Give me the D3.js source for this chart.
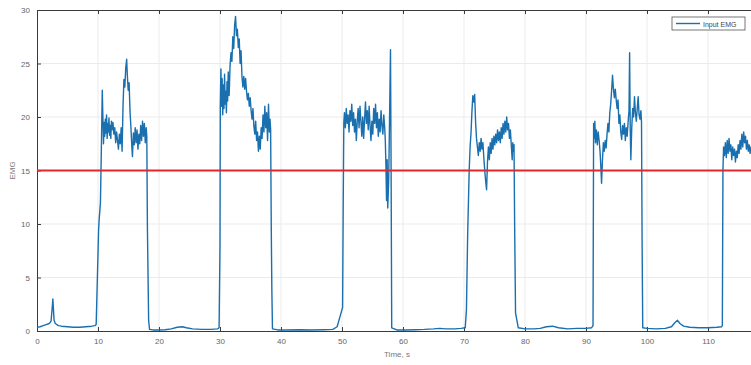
<!DOCTYPE html>
<html>
<head>
<meta charset="utf-8">
<script src="https://cdn.jsdelivr.net/npm/d3@7"></script>
<style>
  body { margin: 0; background: #fff; }
  svg { display: block; font-family: "Liberation Sans", Arial, sans-serif; }
</style>
</head>
<body>
<svg id="chart" width="751" height="365"></svg>
<script>
// EMG trace as [time s, value]
const rest0 = [[0,0.35],[0.5,0.4],[1,0.5],[1.5,0.6],[2,0.7],[2.3,0.9],[2.5,2.2],[2.6,3.0],[2.7,2.0],[2.8,1.0],[3.0,0.7],[3.5,0.5],[4,0.45],[5,0.4],[6,0.35],[7,0.35],[8,0.4],[9,0.45],[9.5,0.5]];
const burst1 = [[9.7,0.6],[9.9,5.0],[10.1,9.5],[10.2,10.5],[10.4,12],[10.55,17],[10.7,22.5],[10.8,20],[10.9,17.5],[11.0,19.5],[11.1,18.2],[11.2,19.8],[11.3,18.5],[11.4,20.2],[11.5,18.0],[11.6,19.4],[11.7,18.6],[11.8,19.9],[11.9,18.3],[12.0,19.2],[12.1,18.0],[12.2,19.6],[12.3,18.8],[12.45,19.5],[12.6,18.4],[12.75,19.0],[12.9,17.6],[13.05,18.6],[13.2,17.8],[13.35,17.0],[13.5,18.4],[13.65,17.5],[13.8,19.0],[13.95,16.8],[14.1,21.0],[14.25,23.5],[14.4,22.8],[14.55,24.6],[14.7,25.4],[14.8,24.0],[14.95,22.5],[15.1,23.2],[15.25,20.5],[15.4,19.0],[15.55,17.2],[15.65,16.3],[15.8,18.5],[15.95,17.4],[16.1,19.0],[16.25,17.6],[16.4,18.8],[16.55,17.0],[16.7,18.4],[16.85,17.5],[17.0,19.2],[17.15,17.8],[17.3,19.6],[17.45,18.2],[17.6,19.4],[17.75,17.6],[17.9,19.0],[18.0,18.2],[18.1,9.7],[18.3,1.0],[18.45,0.15]];
const rest1 = [[19,0.1],[20,0.1],[21,0.12],[22,0.2],[23,0.35],[23.8,0.4],[24.5,0.3],[25.5,0.2],[27,0.15],[28.5,0.15],[29.6,0.2],[29.85,0.3]];
const burst2 = [[30.0,8],[30.05,21],[30.15,24.5],[30.25,21.0],[30.35,23.6],[30.45,20.2],[30.55,23.0],[30.65,20.8],[30.75,24.0],[30.85,21.2],[30.95,22.4],[31.05,20.4],[31.15,23.3],[31.25,21.5],[31.35,24.2],[31.5,22.0],[31.65,24.8],[31.8,26.0],[31.95,25.2],[32.1,27.5],[32.25,26.4],[32.4,28.6],[32.55,29.4],[32.7,27.6],[32.85,28.2],[33.0,26.5],[33.15,27.3],[33.3,25.0],[33.45,26.2],[33.6,23.8],[33.75,22.8],[33.9,23.8],[34.05,22.6],[34.2,23.6],[34.35,22.4],[34.5,21.6],[34.65,22.2],[34.8,21.0],[34.95,21.8],[35.1,20.6],[35.25,19.8],[35.4,20.8],[35.55,19.2],[35.7,18.4],[35.85,19.6],[36.0,17.8],[36.15,18.6],[36.3,16.8],[36.45,18.2],[36.6,17.0],[36.75,19.0],[36.9,18.0],[37.05,20.2],[37.2,18.6],[37.35,21.0],[37.5,19.0],[37.65,20.4],[37.8,17.8],[37.95,21.2],[38.1,18.6],[38.2,19.8],[38.3,18.8],[38.4,10],[38.5,3.8],[38.6,0.2]];
const rest2 = [[39.5,0.1],[41,0.1],[43,0.12],[45,0.1],[47,0.12],[48.5,0.15],[49.2,0.4],[49.6,1.2],[49.95,1.9],[50.1,2.2]];
const burst3 = [[50.2,12],[50.3,19.5],[50.4,20.4],[50.55,19.0],[50.7,20.8],[50.85,19.4],[51.0,20.2],[51.15,18.6],[51.3,20.6],[51.45,19.6],[51.6,21.2],[51.75,19.2],[51.9,20.4],[52.05,18.6],[52.2,19.8],[52.35,17.8],[52.5,19.6],[52.65,20.8],[52.8,19.0],[52.95,21.0],[53.1,19.6],[53.25,18.2],[53.4,20.0],[53.55,18.0],[53.7,19.8],[53.85,21.4],[54.0,19.4],[54.15,20.6],[54.3,18.8],[54.45,21.0],[54.6,19.2],[54.75,17.8],[54.9,19.6],[55.05,18.4],[55.2,20.8],[55.35,19.4],[55.5,21.2],[55.65,19.0],[55.8,20.4],[55.95,18.2],[56.1,19.8],[56.25,18.6],[56.4,20.6],[56.55,19.2],[56.7,18.4],[56.85,20.2],[57.0,19.0],[57.1,17.8],[57.2,15.5],[57.3,12.2],[57.4,16.0],[57.5,11.5],[57.65,14.0],[57.8,20],[57.95,26.3],[58.05,15],[58.15,0.3]];
const rest3 = [[59,0.1],[60.5,0.1],[62,0.12],[63.5,0.15],[65,0.2],[66,0.25],[67,0.2],[68.5,0.2],[69.5,0.25],[70.2,0.3]];
const burst4 = [[70.4,2],[70.6,9],[70.85,15],[71.0,17.2],[71.15,18.5],[71.3,20.5],[71.45,22.0],[71.6,21.4],[71.75,22.1],[71.9,19.5],[72.05,18.0],[72.2,17.2],[72.35,16.4],[72.5,17.6],[72.65,16.8],[72.8,18.0],[72.95,17.0],[73.1,17.6],[73.25,16.2],[73.4,15.0],[73.55,14.0],[73.7,13.2],[73.85,15.8],[74.0,17.2],[74.15,16.0],[74.3,17.6],[74.45,16.6],[74.6,18.0],[74.75,17.0],[74.9,18.2],[75.05,17.4],[75.2,18.4],[75.35,17.6],[75.5,18.8],[75.65,17.8],[75.8,18.6],[75.95,17.6],[76.1,19.0],[76.25,18.0],[76.4,19.4],[76.55,18.4],[76.7,19.6],[76.85,18.6],[77.0,20.0],[77.15,18.8],[77.3,19.4],[77.45,18.0],[77.6,18.8],[77.75,17.4],[77.9,16.0],[78.0,17.6],[78.1,16.8],[78.2,17.4],[78.3,10],[78.45,1.7],[78.9,0.3]];
const rest4 = [[80,0.2],[81.5,0.2],[82.5,0.25],[83.5,0.4],[84.5,0.45],[85.5,0.3],[87,0.2],[88.5,0.25],[90,0.25],[90.9,0.3]];
const burst5 = [[91.15,0.5],[91.25,19.4],[91.35,18.0],[91.45,19.6],[91.55,17.6],[91.7,18.8],[91.85,17.4],[92.0,18.6],[92.15,17.8],[92.3,16.8],[92.45,15.2],[92.55,13.8],[92.7,16.0],[92.85,17.6],[93.0,16.8],[93.15,17.8],[93.3,17.1],[93.45,18.4],[93.6,19.4],[93.75,18.6],[93.9,20.4],[94.05,21.2],[94.2,22.5],[94.35,23.9],[94.5,22.6],[94.65,21.8],[94.8,22.6],[94.95,21.6],[95.1,20.8],[95.25,21.6],[95.4,19.4],[95.55,20.2],[95.7,18.6],[95.85,17.9],[96.0,19.2],[96.15,18.4],[96.3,19.4],[96.45,17.8],[96.6,19.0],[96.75,18.2],[96.9,19.5],[97.05,20.6],[97.15,26.0],[97.25,19.0],[97.35,16.0],[97.5,19.0],[97.65,20.8],[97.8,20.0],[97.95,21.9],[98.1,20.4],[98.25,19.6],[98.4,20.8],[98.55,21.9],[98.7,20.2],[98.85,19.8],[99.0,20.6],[99.1,19.5],[99.2,8],[99.3,0.3]];
const rest5 = [[100,0.25],[101.5,0.2],[103,0.25],[104,0.4],[104.6,0.8],[105,1.0],[105.4,0.7],[106,0.45],[107,0.35],[108.5,0.3],[110,0.3],[111.5,0.35],[112.2,0.4]];
const burst6 = [[112.35,0.5],[112.45,15],[112.55,17.2],[112.7,16.4],[112.85,17.6],[113.0,16.2],[113.15,17.8],[113.3,16.6],[113.45,18.0],[113.6,16.8],[113.75,17.4],[113.9,16.0],[114.05,17.2],[114.2,16.4],[114.35,17.0],[114.5,15.8],[114.65,16.8],[114.8,16.2],[114.95,17.4],[115.1,16.6],[115.25,17.8],[115.4,17.0],[115.55,18.4],[115.7,17.2],[115.85,18.6],[116.0,17.6],[116.15,18.2],[116.3,17.0],[116.45,17.8],[116.6,16.8],[116.75,17.4],[116.9,16.6],[117.05,17.2],[117.2,16.8],[117.5,17.4]];

const threshold = 15;
const xTicks = [0, 10, 20, 30, 40, 50, 60, 70, 80, 90, 100, 110];
const yTicks = [0, 5, 10, 15, 20, 25, 30];
const seriesName = "Input EMG";

const emg = [...rest0, ...burst1, ...rest1, ...burst2, ...rest2, ...burst3,
             ...rest3, ...burst4, ...rest4, ...burst5, ...rest5, ...burst6];

const margin = {left: 37, top: 10, bottom: 34};
const svg = d3.select('#chart');
const H = 365;

// axes run past the right edge of the picture, like the original crop
const x = d3.scaleLinear().domain([0, 120]).range([margin.left, margin.left + 120 * 6.1]);
const y = d3.scaleLinear().domain([0, 30]).range([H - margin.bottom, margin.top]);

// grid
const grid = svg.append('g').attr('stroke', '#ebebeb').attr('stroke-width', 1);
grid.selectAll('.gx').data(xTicks.slice(1)).join('line')
    .attr('x1', d => x(d)).attr('x2', d => x(d))
    .attr('y1', y(30)).attr('y2', y(0));
grid.selectAll('.gy').data(yTicks.slice(1, -1)).join('line')
    .attr('x1', x(0)).attr('x2', x(120))
    .attr('y1', d => y(d)).attr('y2', d => y(d));

// axes, ticks pointing inward
const xAxis = d3.axisBottom(x).tickValues(xTicks).tickSize(-4).tickPadding(7);
const yAxis = d3.axisLeft(y).tickValues(yTicks).tickSize(-4).tickPadding(7);

const gx = svg.append('g').attr('transform', `translate(0,${y(0)})`).call(xAxis);
const gy = svg.append('g').attr('transform', `translate(${x(0)},0)`).call(yAxis);
const gxTop = svg.append('g').attr('transform', `translate(0,${y(30)})`)
    .call(d3.axisTop(x).tickValues(xTicks).tickSize(-4).tickFormat(''));

[gx, gy, gxTop].forEach(g => {
    g.select('.domain').attr('stroke', '#3a3a3a');
    g.selectAll('.tick line').attr('stroke', '#3a3a3a');
    g.selectAll('.tick text').attr('fill', '#666').attr('font-size', 8)
        .attr('font-family', '"Liberation Sans", Arial, sans-serif');
});

// data line
const line = d3.line().x(d => x(d[0])).y(d => y(d[1]));
svg.append('path')
    .datum(emg)
    .attr('fill', 'none')
    .attr('stroke', '#1a6fae')
    .attr('stroke-width', 1.4)
    .attr('stroke-linejoin', 'round')
    .attr('d', line);

// threshold
svg.append('line')
    .attr('x1', x(0)).attr('x2', x(120))
    .attr('y1', y(threshold)).attr('y2', y(threshold))
    .attr('stroke', '#e3262b').attr('stroke-width', 2);

// axis labels
svg.append('text')
    .attr('x', 397).attr('y', 357)
    .attr('text-anchor', 'middle')
    .attr('font-size', 8).attr('fill', '#777')
    .text('Time, s');
svg.append('text')
    .attr('transform', `translate(15,${y(15)}) rotate(-90)`)
    .attr('text-anchor', 'middle')
    .attr('font-size', 8).attr('fill', '#777')
    .text('EMG');

// legend
const lg = svg.append('g').attr('transform', 'translate(672,17)');
lg.append('rect').attr('width', 73).attr('height', 13)
    .attr('fill', '#fff').attr('stroke', '#555').attr('stroke-width', 0.8);
lg.append('line').attr('x1', 4).attr('x2', 28).attr('y1', 6.5).attr('y2', 6.5)
    .attr('stroke', '#1a6fae').attr('stroke-width', 1.4);
lg.append('text').attr('x', 31).attr('y', 9.5)
    .attr('font-size', 7).attr('fill', '#444')
    .text(seriesName);
</script>
</body>
</html>
